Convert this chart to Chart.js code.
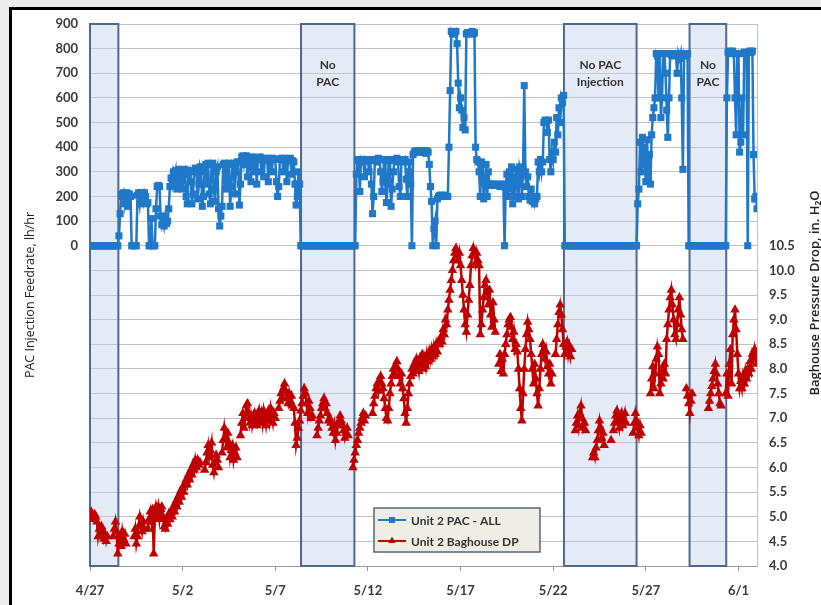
<!DOCTYPE html>
<html><head><meta charset="utf-8">
<script src="https://cdn.jsdelivr.net/npm/chart.js@4.4.1/dist/chart.umd.min.js"></script>
<style>html,body{margin:0;padding:0;background:#fff;}canvas{display:block;}</style>
</head><body>
<canvas id="c" width="821" height="605"></canvas>
<script>
// ---- data ----
const xTickLabels = ['4/27','5/2','5/7','5/12','5/17','5/22','5/27','6/1'];
const sampleHours = 1.5; // one reading every 1.5 h, starting 4/27 00:00 (16 per day)
const pacLabel = 'Unit 2 PAC - ALL';
const dpLabel = 'Unit 2 Baghouse DP';
// PAC feed rate, lb/hr (one row per day)
const pacValues = [
  0,0,0,0,0,0,0,0,0,0,0,0,0,0,0,0,
  0,0,0,0,0,0,0,0,0,40,130,210,200,215,170,210,
  215,160,210,200,0,0,0,0,0,205,215,170,215,210,180,215,
  200,170,175,0,0,110,0,0,0,150,240,245,240,120,85,110,
  80,120,90,100,150,240,275,250,300,280,305,230,300,310,250,300,
  230,300,310,200,170,290,305,260,170,210,300,315,300,190,250,320,
  300,160,200,320,330,250,335,210,170,330,335,230,180,300,320,150,
  80,120,160,330,335,230,330,250,335,160,240,330,335,210,300,340,
  340,165,250,360,365,330,360,365,280,360,355,260,350,360,300,355,
  250,355,350,360,300,350,280,355,350,355,260,345,350,300,355,350,
  350,260,200,240,350,355,350,300,355,350,260,345,350,355,290,345,
  340,250,165,200,300,250,0,0,0,0,0,0,0,0,0,0,
  0,0,0,0,0,0,0,0,0,0,0,0,0,0,0,0,
  0,0,0,0,0,0,0,0,0,0,0,0,0,0,0,0,
  0,0,0,0,0,0,290,350,345,220,350,340,350,280,345,350,
  345,300,350,250,130,200,345,350,340,355,350,300,220,260,350,345,
  175,250,345,350,160,230,300,350,345,355,340,240,200,345,350,340,
  350,270,200,300,340,250,0,370,380,385,380,385,380,385,380,385,
  380,385,375,385,380,330,240,180,0,70,100,0,190,200,205,200,
  205,200,200,205,200,200,400,630,870,860,865,860,870,820,660,560,
  600,550,480,520,470,860,865,860,865,860,870,860,865,400,350,340,
  300,200,340,330,190,250,330,200,300,250,250,245,250,245,250,245,
  245,250,240,245,250,240,0,250,290,200,300,230,320,170,280,200,
  310,250,190,320,300,200,310,650,300,240,280,200,185,230,180,200,
  170,190,200,340,300,350,300,340,500,510,505,460,510,350,300,380,
  350,420,380,520,450,560,500,600,580,610,0,0,0,0,0,0,
  0,0,0,0,0,0,0,0,0,0,0,0,0,0,0,0,
  0,0,0,0,0,0,0,0,0,0,0,0,0,0,0,0,
  0,0,0,0,0,0,0,0,0,0,0,0,0,0,0,0,
  0,0,0,0,0,0,0,0,0,170,230,420,300,440,330,400,
  260,430,280,370,250,450,520,560,600,780,770,600,780,520,600,780,
  780,700,550,440,600,780,775,780,770,780,775,700,780,760,780,600,
  310,780,770,780,780,0,0,0,0,0,0,0,0,0,0,0,
  0,0,0,0,0,0,0,0,0,0,0,0,0,0,0,0,
  0,0,0,0,0,0,600,785,790,780,785,790,780,600,450,780,
  780,380,420,600,450,785,780,785,0,785,790,785,790,370,190,200,
  150
];
// Baghouse pressure drop, in. H2O (null = no reading; one row per day)
const dpValues = [
  5.05,5.1,5.0,4.95,5.05,5.0,4.9,4.6,4.75,4.65,4.8,4.7,4.55,4.65,4.5,4.6,
  null,null,null,null,4.6,4.75,4.9,4.7,4.25,4.45,4.6,4.4,4.7,4.55,4.65,4.45,
  null,null,null,null,null,null,4.6,4.75,4.45,4.6,4.8,5.0,4.85,4.7,4.9,4.75,
  null,null,4.75,4.95,5.1,4.9,5.15,4.25,5.0,5.2,5.05,5.2,4.95,5.15,5.2,5.0,
  4.8,4.75,4.95,4.85,5.05,4.95,5.1,5.0,5.2,5.1,5.3,5.2,5.4,5.3,5.5,5.4,
  5.6,5.5,5.65,5.75,5.65,5.85,5.75,5.95,5.85,6.05,5.95,6.15,6.0,6.15,6.05,6.1,
  null,null,null,5.95,6.1,6.3,6.45,6.2,6.35,6.5,6.05,5.9,6.1,6.25,6.15,6.0,
  null,null,6.3,6.55,6.8,6.6,6.4,6.7,6.5,6.2,6.35,6.45,6.15,6.3,6.4,6.2,
  null,null,6.65,6.9,7.1,6.8,7.0,7.25,7.3,7.1,6.9,7.05,6.85,7.0,7.1,6.9,
  6.85,7.0,7.15,6.95,7.1,6.9,7.15,7.0,6.85,7.05,7.15,6.95,7.2,7.05,6.9,7.1,
  7.0,null,null,7.2,7.35,7.5,7.4,7.6,7.7,7.55,7.4,7.3,7.5,7.35,7.45,7.25,
  7.2,6.9,6.45,6.6,6.8,6.95,7.15,7.3,7.45,7.6,7.5,7.3,7.1,7.35,7.2,7.0,
  7.05,null,null,null,6.65,6.8,6.95,7.05,7.2,7.3,7.4,7.2,7.3,7.1,6.95,7.0,
  6.9,6.8,6.7,6.85,6.55,6.7,6.85,6.95,7.05,6.95,6.85,6.75,6.6,6.7,6.8,6.65,
  null,null,null,6.0,6.15,6.3,6.45,6.55,6.7,6.8,6.9,7.0,7.1,6.95,7.05,null,
  null,null,null,null,7.1,7.3,7.45,7.6,7.7,7.55,7.75,7.85,7.7,7.6,7.4,7.2,
  7.0,6.95,7.2,7.5,7.7,7.85,8.0,7.9,8.05,8.15,8.0,7.85,7.7,7.9,7.6,7.4,
  7.1,6.9,7.2,7.5,7.7,7.85,8.0,7.9,8.1,8.0,8.2,8.1,7.95,8.2,8.1,8.3,
  8.0,8.2,8.05,8.3,8.15,8.35,8.2,8.4,8.25,8.45,8.3,8.5,8.35,8.55,8.5,8.65,
  8.55,8.8,8.7,9.0,8.9,9.2,9.4,9.6,9.8,10.0,10.2,10.35,10.45,10.3,10.2,10.35,
  10.1,9.8,9.5,9.2,8.9,8.75,9.1,9.4,9.7,10.1,10.3,10.45,10.3,10.15,10.35,10.2,
  10.1,8.7,8.9,9.2,9.45,9.7,9.8,9.55,9.3,9.6,9.1,8.85,9.35,9.0,8.75,null,
  null,8.1,8.3,7.95,8.2,7.9,8.3,8.5,8.7,8.9,9.0,9.05,8.85,8.6,8.75,8.4,
  8.5,8.35,8.0,7.6,7.2,6.95,7.5,8.0,8.4,8.7,8.95,8.8,8.6,8.3,8.0,7.7,
  8.1,7.8,7.5,7.25,7.6,8.0,8.3,8.5,8.4,8.2,8.35,8.05,7.9,8.1,7.7,7.9,
  null,null,8.3,8.6,8.9,9.15,9.3,9.1,8.8,8.5,8.3,8.45,8.55,8.3,8.45,8.25,
  8.4,null,null,6.75,6.9,7.05,6.85,7.1,7.25,7.0,6.8,6.9,6.75,null,null,null,
  null,null,6.2,6.3,6.2,6.4,6.55,6.75,6.95,6.8,6.6,6.7,6.45,null,null,null,
  null,null,6.55,null,6.75,6.9,7.05,7.15,6.95,6.8,7.0,7.1,6.85,6.95,7.1,6.9,
  null,null,null,null,null,6.7,6.9,7.1,6.95,6.8,6.65,6.85,6.7,null,null,null,
  null,null,null,null,7.5,7.8,8.05,7.6,7.9,8.2,8.45,8.3,7.5,7.7,8.0,7.8,
  8.1,7.9,8.6,8.9,9.2,9.45,9.6,9.3,9.0,8.7,8.6,8.9,9.2,9.45,9.1,8.8,
  8.6,null,null,7.6,7.45,7.3,7.1,7.35,7.5,null,null,null,null,null,null,null,
  null,null,null,null,null,null,7.2,7.35,7.5,7.65,7.8,7.95,8.1,7.9,7.7,7.5,
  7.3,7.25,null,null,null,7.5,7.9,7.45,8.1,8.4,7.7,8.7,9.0,9.2,8.8,8.3,
  7.9,7.6,7.75,7.6,7.85,7.7,7.95,7.8,8.0,7.9,8.15,8.0,8.3,8.2,8.4,8.25,
  8.1
];
// No-PAC periods, in days after 4/27 00:00
const noPacStart = [0, 11.39, 25.58, 32.36];
const noPacEnd   = [1.53, 14.27, 29.5, 34.34];
const noPacNotes = [[], ['No','PAC'], ['No PAC','Injection'], ['No','PAC']];
const yLeftTitle = 'PAC Injection Feedrate, lh/hr';
const yRightTitle = 'Baghouse Pressure Drop, in. H\u2082O';

// ---- build ----
const dayOf = i => i * sampleHours / 24;
const pacData = pacValues.map((v, i) => ({x: dayOf(i), y: v}));
const dpData = dpValues.map((v, i) => ({x: dayOf(i), y: v}));

const FONT = 'Lato, "Open Sans", "DejaVu Sans", sans-serif';
const TFONT = '"Open Sans", "Noto Sans", "DejaVu Sans", sans-serif';
const PAC_COLOR = '#1f78c8';
const DP_COLOR = '#c00000';

const framePlugin = {
  id: 'frame',
  beforeDraw(chart) {
    const ctx = chart.ctx;
    ctx.save();
    ctx.fillStyle = '#ffffff';
    ctx.fillRect(0, 0, chart.width, chart.height);
    ctx.fillStyle = '#ededed';
    ctx.fillRect(0, 0, chart.width, 8);
    ctx.fillRect(0, 0, 10, chart.height);
    ctx.fillStyle = '#000';
    ctx.fillRect(9, 7, chart.width - 9, 3);
    ctx.fillRect(9, 7, 3, chart.height - 7);
    ctx.restore();
  }
};

const boxesPlugin = {
  id: 'noPacBoxes',
  beforeDatasetsDraw(chart) {
    const ctx = chart.ctx, xs = chart.scales.x, a = chart.chartArea;
    ctx.save();
    noPacStart.forEach((s, k) => {
      const x1 = xs.getPixelForValue(s), x2 = xs.getPixelForValue(noPacEnd[k]);
      ctx.fillStyle = 'rgba(190,208,234,0.42)';
      ctx.fillRect(x1, a.top, x2 - x1, a.bottom - a.top);
      ctx.strokeStyle = '#4d6a8e';
      ctx.lineWidth = 2;
      ctx.strokeRect(x1, a.top, x2 - x1, a.bottom - a.top);
      ctx.fillStyle = '#333';
      ctx.font = 'bold 12px ' + FONT;
      ctx.textAlign = 'center';
      ctx.textBaseline = 'middle';
      noPacNotes[k].forEach((t, j) => ctx.fillText(t, (x1 + x2) / 2, 65 + j * 17));
    });
    ctx.restore();
  }
};

const extrasPlugin = {
  id: 'extras',
  afterDraw(chart) {
    const ctx = chart.ctx;
    ctx.save();
    // right axis title (reads bottom to top)
    ctx.translate(815, 293);
    ctx.rotate(-Math.PI / 2);
    ctx.fillStyle = '#222';
    ctx.font = '600 13px ' + TFONT;
    ctx.textAlign = 'center';
    ctx.textBaseline = 'middle';
    ctx.fillText(yRightTitle, 0, 0);
    ctx.restore();
    // legend
    ctx.save();
    const lx = 374, ly = 508, lw = 166, lh = 44;
    ctx.fillStyle = '#efeee6';
    ctx.fillRect(lx, ly, lw, lh);
    ctx.strokeStyle = '#5b6670';
    ctx.lineWidth = 1.5;
    ctx.strokeRect(lx, ly, lw, lh);
    chart.data.datasets.forEach((ds, k) => {
      const y = ly + 12 + k * 21;
      ctx.strokeStyle = ds.borderColor;
      ctx.lineWidth = 2;
      ctx.beginPath(); ctx.moveTo(lx + 4, y); ctx.lineTo(lx + 32, y); ctx.stroke();
      ctx.fillStyle = ds.borderColor;
      Chart.helpers.drawPoint(ctx, {pointStyle: ds.pointStyle, radius: 4, borderWidth: 0}, lx + 18, y);
      ctx.fill();
      ctx.fillStyle = '#333';
      ctx.font = 'bold 12px ' + FONT;
      ctx.textAlign = 'left';
      ctx.textBaseline = 'middle';
      ctx.fillText(ds.label, lx + 37, y + 1);
    });
    ctx.restore();
  }
};

const tickFont = {family: FONT, size: 13, weight: 'bold'};

new Chart(document.getElementById('c'), {
  type: 'line',
  data: {
    datasets: [
      {label: pacLabel, data: pacData, yAxisID: 'yPac', borderColor: PAC_COLOR, backgroundColor: PAC_COLOR,
       borderWidth: 2.5, pointStyle: 'rect', pointRadius: 5, pointBorderWidth: 0, tension: 0},
      {label: dpLabel, data: dpData, yAxisID: 'yDp', borderColor: DP_COLOR, backgroundColor: DP_COLOR,
       borderWidth: 2.5, pointStyle: 'triangle', pointRadius: 5.5, pointBorderWidth: 0, tension: 0, spanGaps: false}
    ]
  },
  options: {
    responsive: false,
    animation: false,
    layout: {padding: {top: 24, left: 0, right: 0, bottom: 0}},
    plugins: {legend: {display: false}, tooltip: {enabled: false}},
    scales: {
      x: {
        type: 'linear', min: 0, max: 36,
        ticks: {stepSize: 5, includeBounds: false, autoSkip: false, maxRotation: 0,
                callback: v => xTickLabels[v / 5] ?? '', font: tickFont, color: '#3a3a3a', padding: 12},
        grid: {drawOnChartArea: false, drawTicks: true, tickLength: 5, color: '#9a9a9a'},
        border: {color: '#9a9a9a'},
        afterFit: s => { s.height = 39; }
      },
      yPac: {
        type: 'linear', position: 'left', min: -1300, max: 900,
        ticks: {stepSize: 100, callback: v => v >= 0 ? String(v) : '', font: tickFont, color: '#3a3a3a', padding: 12},
        grid: {color: '#c2c2c2', drawTicks: false},
        border: {color: '#9a9a9a'},
        title: {display: true, text: yLeftTitle, color: '#222', font: {family: TFONT, size: 12.5}, padding: {top: 23, bottom: 0}},
        afterFit: s => { s.width = 90; }
      },
      yDp: {
        type: 'linear', position: 'right', min: 4, max: 15,
        ticks: {stepSize: 0.5, callback: v => v <= 10.5 ? v.toFixed(1) : '', font: tickFont, color: '#3a3a3a', padding: 12},
        grid: {drawOnChartArea: false, drawTicks: false},
        border: {color: '#c2c2c2'},
        afterFit: s => { s.width = 64; }
      }
    }
  },
  plugins: [framePlugin, boxesPlugin, extrasPlugin]
});
</script>
</body></html>
